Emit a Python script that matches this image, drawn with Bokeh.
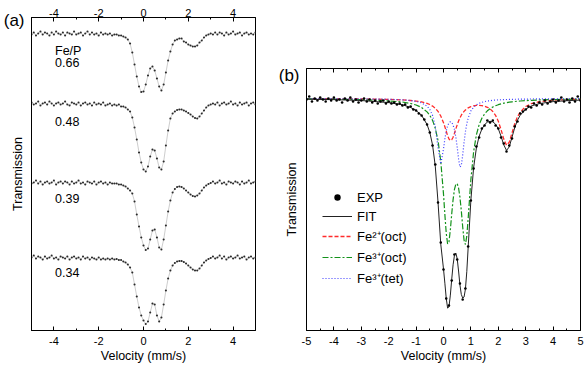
from bokeh.plotting import figure
from bokeh.layouts import row
from bokeh.models import (Range1d, FixedTicker, LinearAxis, Legend,
                          LegendItem, CustomJSTickFormatter)
from bokeh.core.properties import value
from bokeh.embed import file_html
from bokeh.resources import INLINE

FONT = "Liberation Sans"

# ---------------- data: panel (a) ----------------
vel_a = [-5.0, -4.9, -4.8, -4.7, -4.6, -4.5, -4.4, -4.3, -4.2, -4.1,
         -4.0, -3.9, -3.8, -3.7, -3.6, -3.5, -3.4, -3.3, -3.2, -3.1,
         -3.0, -2.9, -2.8, -2.7, -2.6, -2.5, -2.4, -2.3, -2.2, -2.1,
         -2.0, -1.9, -1.8, -1.7, -1.6, -1.5, -1.4, -1.3, -1.2, -1.1,
         -1.0, -0.9, -0.8, -0.7, -0.6, -0.5, -0.4, -0.3, -0.2, -0.1,
         0.0, 0.1, 0.2, 0.3, 0.4, 0.5, 0.6, 0.7, 0.8, 0.9,
         1.0, 1.1, 1.2, 1.3, 1.4, 1.5, 1.6, 1.7, 1.8, 1.9,
         2.0, 2.1, 2.2, 2.3, 2.4, 2.5, 2.6, 2.7, 2.8, 2.9,
         3.0, 3.1, 3.2, 3.3, 3.4, 3.5, 3.6, 3.7, 3.8, 3.9,
         4.0, 4.1, 4.2, 4.3, 4.4, 4.5, 4.6, 4.7, 4.8, 4.9,
         5.0]

fe_p_header = "Fe/P"
fe_p_labels = ["0.66", "0.48", "0.39", "0.34"]

spec_066 = [99.9, 100.1, 99.8, 100.0, 100.2, 99.9, 100.1, 100.0, 99.8, 100.1,
            99.9, 100.2, 100.0, 99.9, 100.1, 99.8, 100.1, 100.0, 99.9, 100.2,
            99.9, 100.0, 100.1, 99.8, 100.0, 100.2, 99.9, 100.1, 99.9, 100.0,
            99.8, 100.1, 99.9, 100.0, 99.9, 100.0, 99.8, 99.9, 99.9, 99.8,
            99.8, 99.7, 99.6, 99.4, 99.0, 98.1, 96.9, 95.7, 94.7, 94.15,
            94.2, 94.9, 95.8, 96.5, 96.7, 96.3, 95.5, 94.7, 94.3, 94.9,
            96.1, 97.3, 98.2, 98.9, 99.3, 99.4, 99.5, 99.5, 99.2, 99.1,
            98.9, 98.8, 98.7, 98.7, 98.8, 99.1, 99.3, 99.6, 99.8, 99.9,
            100.0, 99.9, 100.1, 99.9, 100.1, 100.0, 99.8, 100.1, 99.9, 100.0,
            100.2, 99.9, 100.0, 100.1, 99.8, 100.0, 100.1, 99.9, 100.0, 99.9,
            100.1]

spec_048 = [100.1, 99.9, 100.0, 100.2, 99.8, 100.0, 100.1, 99.9, 100.2, 100.0,
            99.8, 100.0, 100.1, 99.9, 100.0, 100.2, 99.9, 99.8, 100.1, 100.0,
            99.9, 100.1, 99.8, 100.0, 100.1, 99.9, 100.0, 99.8, 100.1, 99.9,
            100.0, 99.9, 100.1, 99.8, 99.9, 100.0, 99.8, 99.9, 99.8, 99.9,
            99.7, 99.7, 99.6, 99.4, 99.2, 98.6, 97.6, 96.4, 95.1, 94.1,
            93.4, 93.2, 93.7, 94.7, 95.4, 95.3, 94.5, 93.6, 93.4, 94.2,
            95.8, 97.3, 98.5, 99.0, 99.2, 99.35, 99.4, 99.4, 99.3, 99.2,
            99.05, 98.9, 98.7, 98.55, 98.5, 98.7, 99.0, 99.3, 99.6, 99.8,
            99.9, 100.0, 99.9, 100.1, 99.8, 100.0, 100.1, 99.9, 100.0, 100.2,
            99.9, 100.0, 99.8, 100.1, 99.9, 100.0, 100.1, 99.8, 100.0, 100.1,
            99.9]

spec_039 = [99.9, 100.0, 100.2, 99.9, 100.1, 99.8, 100.0, 100.1, 99.9, 100.0,
            100.2, 99.8, 100.0, 100.1, 99.9, 100.1, 100.0, 99.8, 100.1, 99.9,
            100.0, 100.2, 99.9, 100.0, 99.8, 100.1, 100.0, 99.9, 100.1, 99.8,
            100.0, 100.1, 99.9, 100.0, 99.8, 100.0, 99.9, 99.9, 99.9, 99.8,
            99.8, 99.7, 99.6, 99.4, 99.2, 98.9, 98.1, 96.8, 95.6, 94.5,
            93.7, 93.25, 93.4, 94.3, 95.2, 95.3, 94.5, 93.5, 93.3, 94.3,
            95.7, 97.1, 98.2, 99.0, 99.35, 99.55, 99.6, 99.55, 99.4, 99.2,
            99.0, 98.8, 98.65, 98.6, 98.7, 98.9, 99.2, 99.5, 99.7, 99.85,
            99.95, 100.1, 99.9, 100.0, 100.2, 99.9, 100.0, 99.8, 100.1, 100.0,
            99.9, 100.1, 100.0, 99.8, 100.1, 99.9, 100.0, 100.2, 99.9, 100.0,
            100.1]

spec_034 = [100.0, 100.2, 99.9, 100.1, 100.0, 99.8, 100.1, 99.9, 100.0, 100.2,
            99.9, 100.0, 99.8, 100.1, 100.0, 99.9, 100.1, 99.8, 100.0, 100.1,
            99.9, 100.0, 99.8, 100.1, 99.9, 100.0, 99.8, 100.0, 99.9, 99.8,
            100.0, 99.8, 99.9, 99.8, 99.9, 99.8, 99.9, 99.8, 99.85, 99.75,
            99.75, 99.6, 99.5, 99.3, 99.0, 98.5, 97.3, 96.1, 95.0, 94.2,
            93.7, 93.35, 93.6, 94.5, 95.4, 95.3, 94.2, 93.6, 94.0, 95.3,
            96.7, 97.9, 98.7, 99.2, 99.45, 99.6, 99.65, 99.65, 99.55, 99.4,
            99.2, 99.0, 98.8, 98.7, 98.7, 98.9, 99.2, 99.5, 99.7, 99.85,
            99.95, 100.1, 99.9, 100.0, 100.2, 99.9, 100.1, 99.8, 100.0, 100.1,
            99.9, 100.0, 100.2, 99.9, 100.0, 100.1, 99.8, 100.0, 100.1, 99.9,
            100.0]

stack_offsets = [29.7, 22.7, 14.8, 7.3]

# ---------------- data: panel (b) ----------------
vel_exp = vel_a
trans_exp = [99.9, 100.2, 99.7, 100.0, 99.8, 100.1, 99.9, 99.7, 100.0, 99.8,
             100.1, 99.8, 99.9, 99.6, 100.0, 99.8, 100.1, 99.7, 99.9, 99.6,
             99.8, 100.0, 99.7, 99.9, 99.6, 99.8, 99.5, 99.7, 99.8, 99.5,
             99.7, 99.5, 99.6, 99.4, 99.5, 99.3, 99.4, 99.1, 99.2, 98.9,
             98.8, 98.5, 98.3, 97.9, 97.4, 96.6, 95.3, 93.4, 89.6, 85.6,
             82.9, 80.0, 79.3, 81.8, 84.4, 83.9, 81.5, 79.9, 81.0, 85.2,
             89.8, 93.0, 95.2, 96.1, 97.0, 97.3, 97.8, 97.6, 97.8, 97.3,
             97.0, 96.1, 95.5, 94.7, 95.3, 96.0, 97.2, 97.7, 98.5, 98.7,
             98.9, 99.2, 99.1, 99.5, 99.3, 99.6, 99.4, 99.8, 99.5, 99.7,
             99.9, 99.6, 99.8, 100.1, 99.7, 99.9, 99.6, 100.0, 99.7, 100.2,
             99.8]

vel_fit = [-5.0, -4.0, -3.0, -2.0, -1.5, -1.2, -1.0, -0.8, -0.6, -0.5,
           -0.4, -0.3, -0.2, -0.1, 0.0, 0.05, 0.1, 0.15, 0.2, 0.25,
           0.3, 0.35, 0.4, 0.45, 0.5, 0.55, 0.6, 0.65, 0.7, 0.75,
           0.8, 0.85, 0.9, 1.0, 1.1, 1.2, 1.3, 1.4, 1.5, 1.6,
           1.7, 1.8, 1.9, 2.0, 2.1, 2.2, 2.3, 2.4, 2.5, 2.6,
           2.7, 2.8, 3.0, 3.2, 3.5, 4.0, 4.5, 5.0]

trans_fit = [99.93, 99.885, 99.8, 99.59, 99.38, 99.1, 98.8, 98.32, 97.4, 96.61,
             95.36, 93.24, 89.63, 85.44, 82.95, 81.53, 80.01, 79.04, 79.17, 80.34,
             81.93, 83.37, 84.32, 84.55, 83.98, 82.75, 81.34, 80.41, 80.05, 80.15,
             80.93, 82.68, 85.1, 89.87, 93.1, 95.05, 96.22, 96.94, 97.38, 97.64,
             97.72, 97.67, 97.43, 96.97, 96.23, 95.36, 94.81, 95.16, 96.13, 97.09,
             97.83, 98.33, 98.93, 99.25, 99.49, 99.69, 99.78, 99.84]

trans_fe2_oct = [99.98, 99.97, 99.95, 99.91, 99.86, 99.8, 99.74, 99.66, 99.51, 99.4,
                 99.24, 99.03, 98.71, 98.25, 97.58, 97.17, 96.73, 96.29, 95.95, 95.8,
                 95.87, 96.13, 96.52, 96.95, 97.37, 97.74, 98.06, 98.33, 98.54, 98.71,
                 98.85, 98.97, 99.06, 99.19, 99.27, 99.31, 99.32, 99.29, 99.23, 99.12,
                 98.96, 98.7, 98.31, 97.73, 96.9, 95.94, 95.33, 95.62, 96.55, 97.47,
                 98.17, 98.65, 99.2, 99.48, 99.68, 99.83, 99.89, 99.92]

trans_fe3_oct = [99.96, 99.935, 99.89, 99.76, 99.65, 99.5, 99.35, 99.1, 98.66, 98.31,
                 97.81, 97.03, 95.8, 93.74, 90.44, 88.39, 86.52, 85.47, 85.66, 86.87,
                 88.46, 89.89, 90.91, 91.44, 91.48, 91.05, 90.13, 88.78, 87.18, 85.84,
                 85.4, 86.23, 87.99, 91.92, 94.69, 96.37, 97.38, 98.03, 98.46, 98.77,
                 98.98, 99.15, 99.28, 99.38, 99.46, 99.53, 99.58, 99.63, 99.665, 99.7,
                 99.73, 99.75, 99.79, 99.82, 99.855, 99.894, 99.92, 99.937]

trans_fe3_tet = [99.987, 99.98, 99.964, 99.923, 99.87, 99.8, 99.71, 99.56, 99.23, 98.9,
                 98.31, 97.18, 95.12, 93.45, 94.93, 95.97, 96.76, 97.28, 97.56, 97.67,
                 97.6, 97.35, 96.89, 96.16, 95.13, 93.96, 93.15, 93.3, 94.33, 95.6,
                 96.68, 97.48, 98.05, 98.76, 99.14, 99.37, 99.52, 99.62, 99.69, 99.75,
                 99.785, 99.82, 99.84, 99.86, 99.875, 99.888, 99.9, 99.908, 99.916, 99.923,
                 99.929, 99.934, 99.943, 99.95, 99.958, 99.968, 99.974, 99.979]

legend_labels = ["EXP", "FIT", "Fe\u00b2\u207a(oct)", "Fe\u00b3\u207a(oct)", "Fe\u00b3\u207a(tet)"]
panel_tags = ["(a)", "(b)"]

ticks_a = [-4, -2, 0, 2, 4]
minor_a = [-5, -3, -1, 1, 3, 5]
ticks_b = [-5, -4, -3, -2, -1, 0, 1, 2, 3, 4, 5]
minor_b = [-4.5, -3.5, -2.5, -1.5, -0.5, 0.5, 1.5, 2.5, 3.5, 4.5]


def make_axis(ticks, minor, labels=True, standoff=6, axis_label=None):
    ax = LinearAxis(ticker=FixedTicker(ticks=ticks, minor_ticks=minor),
                    formatter=CustomJSTickFormatter(code="return String(tick);"))
    ax.axis_line_color = "black"
    ax.axis_line_width = 1
    ax.major_tick_in = 4
    ax.major_tick_out = 0
    ax.minor_tick_in = 2
    ax.minor_tick_out = 0
    ax.major_tick_line_color = "black"
    ax.minor_tick_line_color = "black"
    ax.major_label_text_font = FONT
    ax.major_label_text_font_size = "11px"
    ax.major_label_text_color = "black" if labels else None
    ax.major_label_standoff = standoff
    if axis_label:
        ax.axis_label = axis_label
        ax.axis_label_text_font = FONT
        ax.axis_label_text_font_size = "12.5px"
        ax.axis_label_text_font_style = "normal"
        ax.axis_label_text_color = "black"
        ax.axis_label_standoff = 1
    return ax


def make_left_axis(standoff):
    ax = LinearAxis(ticker=FixedTicker(ticks=[]))
    ax.axis_line_color = "black"
    ax.major_tick_line_color = None
    ax.minor_tick_line_color = None
    ax.axis_label = "Transmission"
    ax.axis_label_text_font = FONT
    ax.axis_label_text_font_size = "12.5px"
    ax.axis_label_text_font_style = "normal"
    ax.axis_label_text_color = "black"
    ax.axis_label_standoff = standoff
    return ax


def make_tag_axis(tag, y_pos, standoff):
    # outer left axis whose single tick label carries the panel tag
    ax = LinearAxis(ticker=FixedTicker(ticks=[y_pos]),
                    formatter=CustomJSTickFormatter(code="return %r;" % tag))
    ax.axis_line_color = None
    ax.major_tick_line_color = None
    ax.minor_tick_line_color = None
    ax.major_label_text_font = FONT
    ax.major_label_text_font_size = "17px"
    ax.major_label_text_color = "black"
    ax.major_label_standoff = standoff
    return ax


# ---------------- panel (a) ----------------
pa = figure(width=258, height=365, x_range=Range1d(-5, 5), y_range=Range1d(0, 31.3),
            output_backend="svg", toolbar_location=None,
            x_axis_location=None, y_axis_location=None,
            min_border=0, min_border_left=31, min_border_right=3,
            min_border_top=17, min_border_bottom=0)
pa.grid.visible = False
pa.outline_line_color = "black"
pa.outline_line_width = 1
pa.outline_line_alpha = 1

pa.add_layout(make_axis(ticks_a, minor_a, True, 6, "Velocity (mm/s)"), "below")
pa.add_layout(make_axis(ticks_a, minor_a, True, 1), "above")
pa.add_layout(make_left_axis(7), "left")
pa.add_layout(make_tag_axis(panel_tags[0], 31.0, -23), "left")

for spec, off in zip([spec_066, spec_048, spec_039, spec_034], stack_offsets):
    ys = [t - 100.0 + off for t in spec]
    pa.line(vel_a, ys, line_color="#444444", line_width=0.6, line_alpha=0.45)
    pa.scatter(vel_a, ys, size=2.1, marker="circle", fill_color="#2a2a2a",
               line_color=None)

pa.text(x=[-3.95] * 5, y=[27.95, 26.8, 20.9, 13.2, 5.8],
        text=[fe_p_header] + fe_p_labels,
        text_font=value(FONT), text_font_size=value("12.5px"),
        text_baseline="middle", text_align="left", text_color="black")

# ---------------- panel (b) ----------------
pb = figure(width=327, height=365, x_range=Range1d(-5, 5), y_range=Range1d(76.8, 103.0),
            output_backend="svg", toolbar_location=None,
            x_axis_location=None, y_axis_location=None,
            min_border=0, min_border_left=48, min_border_right=5,
            min_border_top=68, min_border_bottom=0)
pb.grid.visible = False
pb.outline_line_color = "black"
pb.outline_line_width = 1
pb.outline_line_alpha = 1

pb.add_layout(make_axis(ticks_b, minor_b, True, 6, "Velocity (mm/s)"), "below")
pb.add_layout(make_axis(ticks_b, minor_b, False, 1), "above")
pb.add_layout(make_left_axis(8), "left")
pb.add_layout(make_tag_axis(panel_tags[1], 102.35, -24), "left")

r_fe2 = pb.line(vel_fit, trans_fe2_oct, line_color="#ff2b2b", line_width=1.3,
                line_dash="4 2")
r_fe3o = pb.line(vel_fit, trans_fe3_oct, line_color="#13921a", line_width=1.2,
                 line_dash="6 2 2 2")
r_fe3t = pb.line(vel_fit, trans_fe3_tet, line_color="#3b3bff", line_width=1.2,
                 line_dash="1 2")
r_fit = pb.line(vel_fit, trans_fit, line_color="#222222", line_width=1.0)
r_exp = pb.scatter(vel_exp, trans_exp, size=2.6, marker="circle",
                   fill_color="black", line_color=None)

legend = Legend(items=[LegendItem(label=legend_labels[0], renderers=[r_exp]),
                       LegendItem(label=legend_labels[1], renderers=[r_fit]),
                       LegendItem(label=legend_labels[2], renderers=[r_fe2]),
                       LegendItem(label=legend_labels[3], renderers=[r_fe3o]),
                       LegendItem(label=legend_labels[4], renderers=[r_fe3t])],
                location=(16, 43))
legend.border_line_color = None
legend.background_fill_alpha = 0
legend.padding = 0
legend.margin = 0
legend.spacing = 3
legend.glyph_height = 16
legend.glyph_width = 30
legend.label_height = 16
legend.label_standoff = 5
legend.label_text_font = FONT
legend.label_text_font_size = "13px"
legend.label_text_color = "black"
pb.add_layout(legend)

for fig in (pa, pb):
    if "frame_align" in fig.properties():
        fig.frame_align = False

layout = row(pa, pb)
open("out.html", "w").write(file_html(layout, INLINE))
